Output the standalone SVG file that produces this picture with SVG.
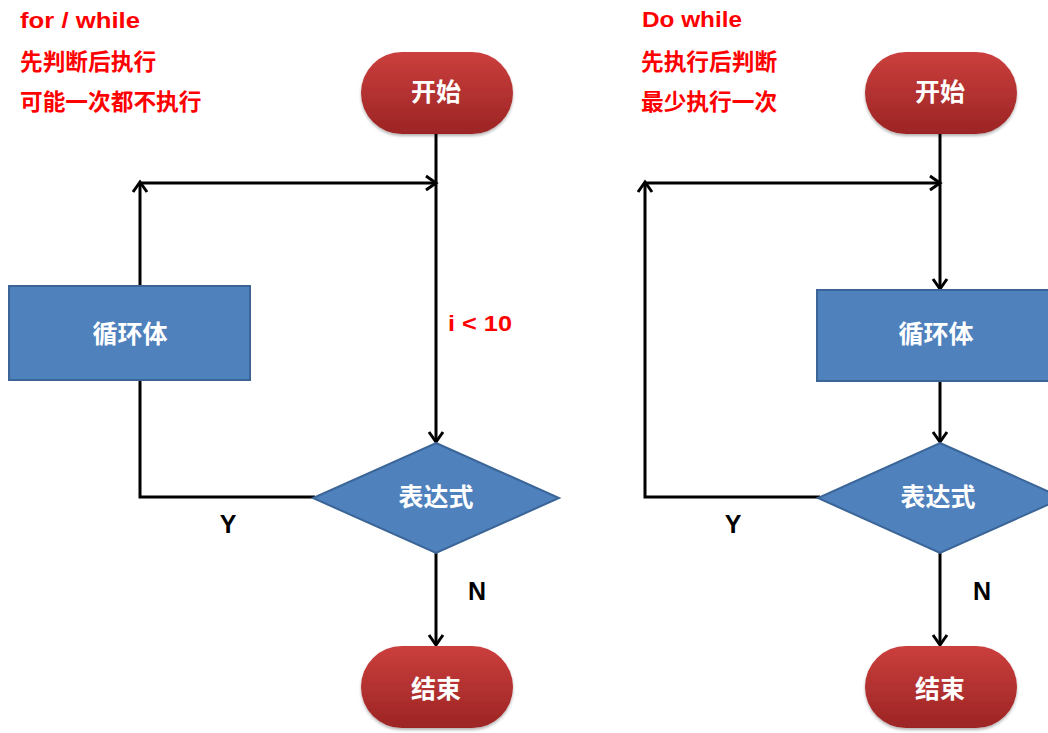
<svg xmlns="http://www.w3.org/2000/svg" width="1048" height="733" viewBox="0 0 1048 733">
<style>
.note{font-family:"Liberation Sans","Noto Sans CJK SC",sans-serif;font-weight:bold;font-size:22.7px;fill:#ff0000}
.lbl{font-family:"Liberation Sans","Noto Sans CJK SC",sans-serif;font-weight:bold;font-size:25px;fill:#ffffff;text-anchor:middle}
.yn{font-family:"Liberation Sans",sans-serif;font-weight:bold;font-size:25px;fill:#000;text-anchor:middle}
.pill{fill:url(#red);filter:url(#sh)}
.box{fill:#4f81bd;stroke:#3b6597;stroke-width:2}
.ln{fill:none;stroke:#000;stroke-width:3}
.arr{marker-end:url(#ah)}
</style>
<defs>
<linearGradient id="red" x1="0" y1="0" x2="0" y2="1">
<stop offset="0" stop-color="#cb3f3d"/>
<stop offset="1" stop-color="#9c2424"/>
</linearGradient>
<filter id="sh" x="-10%" y="-10%" width="120%" height="130%">
<feDropShadow dx="0" dy="2" stdDeviation="1.5" flood-color="#000" flood-opacity="0.3"/>
</filter>
<marker id="ah" markerUnits="userSpaceOnUse" markerWidth="18" markerHeight="18" refX="13" refY="9" orient="auto">
<path d="M3,2 L13,9 L3,16" fill="none" stroke="#000" stroke-width="3"/>
</marker>
</defs>

<g id="notes-left">
<text class="note" x="20" y="28" textLength="120" lengthAdjust="spacingAndGlyphs">for / while</text>
<text class="note" x="20" y="70">先判断后执行</text>
<text class="note" x="20" y="110">可能一次都不执行</text>
</g>
<g id="notes-right">
<text class="note" x="642" y="27" textLength="100" lengthAdjust="spacingAndGlyphs">Do while</text>
<text class="note" x="641" y="70">先执行后判断</text>
<text class="note" x="641" y="110">最少执行一次</text>
</g>

<g id="connectors">
<!-- left -->
<line class="ln arr" x1="436" y1="134" x2="436" y2="442"/>
<line class="ln arr" x1="140" y1="183" x2="436" y2="183"/>
<line class="ln arr" x1="140" y1="286" x2="140" y2="182"/>
<polyline class="ln" points="315,497 140,497 140,380"/>
<line class="ln arr" x1="436" y1="553" x2="436" y2="645"/>
<!-- right -->
<line class="ln arr" x1="940" y1="134" x2="940" y2="289"/>
<line class="ln arr" x1="645" y1="183" x2="940" y2="183"/>
<polyline class="ln arr" points="820,497 645,497 645,182"/>
<line class="ln arr" x1="940" y1="381" x2="940" y2="442"/>
<line class="ln arr" x1="940" y1="553" x2="940" y2="645"/>
</g>

<g id="start-left"><rect class="pill" x="361" y="52" width="152" height="82" rx="41"/><text class="lbl" x="436" y="101">开始</text></g>
<g id="body-left"><rect class="box" x="9" y="286" width="241" height="94"/><text class="lbl" x="130" y="343">循环体</text></g>
<g id="cond-left"><polygon class="box" points="436,443 559,498 436,553 313,498" stroke-width="1"/><text class="lbl" x="436" y="506">表达式</text></g>
<g id="end-left"><rect class="pill" x="361" y="646" width="152" height="82" rx="41"/><text class="lbl" x="436" y="698">结束</text></g>
<g id="labels-left">
<text class="note" x="448" y="331" textLength="64" lengthAdjust="spacingAndGlyphs">i &lt; 10</text>
<text class="yn" x="228" y="533">Y</text>
<text class="yn" x="477" y="600">N</text>
</g>

<g id="start-right"><rect class="pill" x="865" y="52" width="152" height="82" rx="41"/><text class="lbl" x="940" y="101">开始</text></g>
<g id="body-right"><rect class="box" x="817" y="290" width="246" height="91"/><text class="lbl" x="936" y="343">循环体</text></g>
<g id="cond-right"><polygon class="box" points="940,443 1063,498 940,553 818,498" stroke-width="1"/><text class="lbl" x="938" y="506">表达式</text></g>
<g id="end-right"><rect class="pill" x="865" y="646" width="152" height="82" rx="41"/><text class="lbl" x="940" y="698">结束</text></g>
<g id="labels-right">
<text class="yn" x="733" y="533">Y</text>
<text class="yn" x="982" y="600">N</text>
</g>
</svg>
